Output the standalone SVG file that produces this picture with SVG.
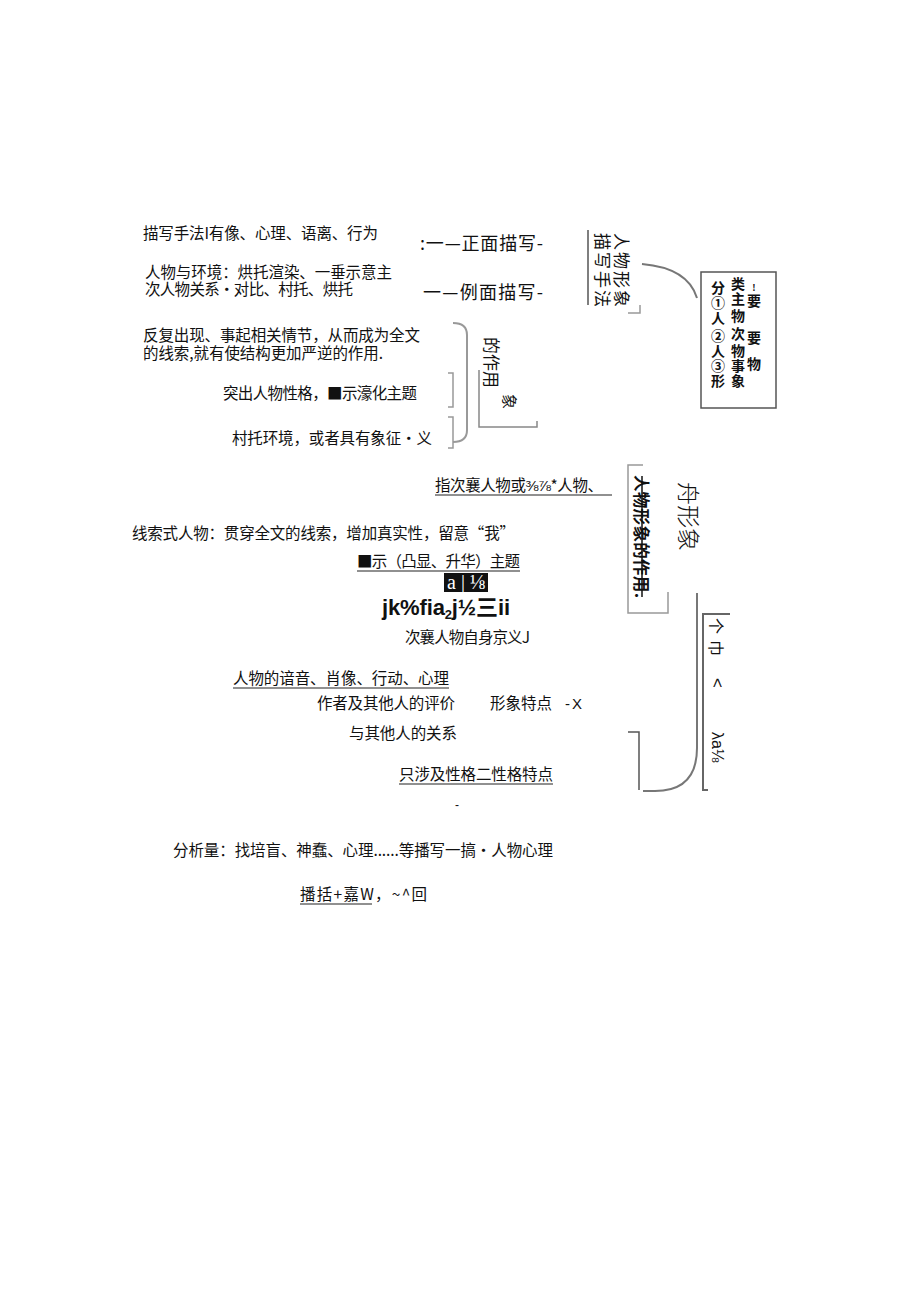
<svg xmlns="http://www.w3.org/2000/svg" width="920" height="1301" viewBox="0 0 920 1301">
<style>
.t{font-family:"Noto Sans CJK SC","Liberation Sans",sans-serif;font-size:15.5px;fill:#111}
.tl{font-family:"Liberation Sans","Noto Sans CJK SC",sans-serif;fill:#111}
.big{font-size:18px}
.v{dominant-baseline:central}
.bx{font-family:"Noto Sans CJK SC",sans-serif;font-size:14px;font-weight:700;fill:#111;text-anchor:middle;dominant-baseline:central}
.ln{fill:none;stroke:#555;stroke-width:1.5}
.lg{fill:none;stroke:#999;stroke-width:1.5}
.cv{fill:none;stroke:#777;stroke-width:2}
.ul{stroke:#222;stroke-width:1.2}
</style>
<rect width="920" height="1301" fill="#fff"/>

<g id="connectors">
  <line class="ln" x1="588" y1="230" x2="588" y2="305"/>
  <path class="lg" d="M640 305 V313 H628"/>
  <path class="cv" d="M642 264 Q688 268 697 298"/>
  <path class="lg" d="M453 323 Q467 323 467 335 V430 Q467 442 453 442" style="stroke-width:2"/>
  <path class="lg" d="M448 373 H453 V407 H448"/>
  <path class="lg" d="M448 417 H453 V448 H448"/>
  <path class="lg" d="M479 370 V427 H537 V421" style="stroke:#888"/>
  <path class="lg" d="M643 465 H628 V613 H668 V592"/>
  <path class="cv" d="M697 593 V748 Q697 791 655 791 H643"/>
  <path class="ln" d="M628 732 H639 V790"/>
  <path class="ln" d="M730 614 H703 V790 H708" style="stroke:#666;stroke-width:2"/>
</g>

<g id="node-miaoxie">
  <text class="t" x="143" y="239" textLength="235">描写手法I有像、心理、语离、行为</text>
  <text class="t" x="145" y="278" textLength="247">人物与环境：烘托渲染、一垂示意主</text>
  <text class="t" x="145" y="295" textLength="208">次人物关系•对比、村托、烘托</text>
</g>
<g id="node-zhengmian">
  <text class="t big" x="420" y="250" textLength="123">:一—正面描写-</text>
</g>
<g id="node-cemian">
  <text class="t big" x="423" y="299" textLength="120">一—例面描写-</text>
</g>
<g id="node-renwu-xingxiang-miaoxie">
  <text class="t v" style="font-size:17px" transform="translate(622,233) rotate(90)" textLength="74">人物形象</text>
  <text class="t v" style="font-size:17px" transform="translate(603,233) rotate(90)" textLength="74">描写手法</text>
</g>
<g id="node-fenlei">
  <rect x="701" y="272" width="75" height="136" class="ln"/>
  <text class="bx" x="718" y="287">分</text>
  <text class="bx" x="718" y="302">①</text>
  <text class="bx" x="718" y="317">人</text>
  <text class="bx" x="718" y="335">②</text>
  <text class="bx" x="718" y="350">人</text>
  <text class="bx" x="718" y="365">③</text>
  <text class="bx" x="718" y="380">形</text>
  <text class="bx" x="738" y="283">类</text>
  <text class="bx" x="738" y="298">主</text>
  <text class="bx" x="738" y="315">物</text>
  <text class="bx" x="738" y="333">次</text>
  <text class="bx" x="738" y="350">物</text>
  <text class="bx" x="738" y="365">事</text>
  <text class="bx" x="738" y="380">象</text>
  <text class="bx" x="754" y="287" style="font-size:9px">!</text>
  <text class="bx" x="754" y="300">要</text>
  <text class="bx" x="754" y="337">要</text>
  <text class="bx" x="754" y="363">物</text>
</g>
<g id="node-zuoyong-list">
  <text class="t" x="143" y="341" textLength="277">反复出现、事起相关情节，从而成为全文</text>
  <text class="t" x="143" y="359" textLength="240">的线索,就有使结构更加严逆的作用.</text>
  <text class="t" x="223" y="399" textLength="194">突出人物性格，■示濠化主题</text>
  <text class="t" x="232" y="444" textLength="200">村托环境，或者具有象征・义</text>
</g>
<g id="node-de-zuoyong">
  <text class="t v" style="font-size:17px" transform="translate(492,337) rotate(90)">的作用</text>
  <text class="t v" style="font-size:15px" transform="translate(510,394) rotate(90)">象</text>
</g>
<g id="node-cirenwu">
  <text class="t" x="435" y="491" textLength="168">指次襄人物或⅜⅞*人物、</text>
  <line class="ul" x1="435" y1="495" x2="612" y2="495"/>
  <text class="t" x="132" y="539" textLength="383">线索式人物：贯穿全文的线索，增加真实性，留意“我”</text>
  <text class="t" x="357" y="567" textLength="163">■示（凸显、升华）主题</text>
  <line class="ul" x1="357" y1="571" x2="520" y2="571"/>
  <rect x="444" y="573" width="44" height="19" fill="#111"/>
  <text x="447" y="589" font-family="Liberation Serif,serif" font-size="20" fill="#fff" textLength="38">a|⅛</text>
  <text class="tl" x="382" y="615" font-size="22" font-weight="700" textLength="128">jk%fia<tspan font-size="13" dy="4">2</tspan><tspan dy="-4">j½三ii</tspan></text>
  <text class="t" x="405" y="643" textLength="125">次襄人物自身京义J</text>
</g>
<g id="node-zuoyong-box">
  <text class="t v" style="font-size:16.5px;font-weight:700" transform="translate(642,475) rotate(90)" textLength="123">人物形象的作用.</text>
  <line x1="642" y1="476" x2="642" y2="597" stroke="#111" stroke-width="1.5"/>
</g>
<g id="node-zhou-xingxiang">
  <text class="t v" style="font-size:23px;font-weight:300" transform="translate(690,482) rotate(90)">舟形象</text>
</g>
<g id="node-xingxiang-tedian">
  <text class="t" x="233" y="684" textLength="216">人物的谙音、肖像、行动、心理</text>
  <line class="ul" x1="233" y1="688" x2="449" y2="688"/>
  <text class="t" x="317" y="709" textLength="138">作者及其他人的评价</text>
  <text class="t" x="490" y="709" textLength="62">形象特点</text>
  <text class="tl" x="565" y="709" font-size="15" textLength="17">-X</text>
  <text class="t" x="349" y="739" textLength="108">与其他人的关系</text>
  <text class="t" x="399" y="780" textLength="154">只涉及性格二性格特点</text>
  <line class="ul" x1="399" y1="784" x2="553" y2="784"/>
  <text class="tl" x="455" y="809" font-size="12">-</text>
</g>
<g id="node-right-col">
  <text class="t v" style="font-size:16px" transform="translate(717,618) rotate(90)">个</text>
  <text class="t v" style="font-size:16px" transform="translate(717,640) rotate(90)">巾</text>
  <text class="tl v" font-size="17" transform="translate(717,678) rotate(90)">&lt;</text>
  <text class="tl v" font-size="16" transform="translate(717,732) rotate(90)">λa⅛</text>
</g>
<g id="node-fenxi">
  <text class="t" x="173" y="856" textLength="380">分析量：找培盲、神蠢、心理......等播写一搞・人物心理</text>
  <text class="t" x="300" y="900" textLength="127">播括+嘉W，~^回</text>
  <line class="ul" x1="300" y1="904" x2="372" y2="904"/>
</g>
</svg>
